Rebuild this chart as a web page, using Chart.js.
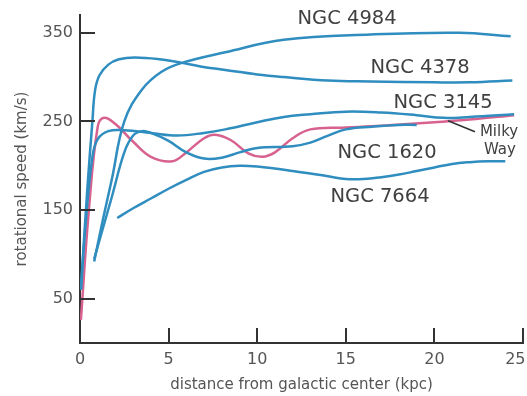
<!DOCTYPE html>
<html>
<head>
<meta charset="utf-8">
<script src="https://cdn.jsdelivr.net/npm/chart.js@4"></script>
<style>
  html, body { margin: 0; padding: 0; background: #ffffff; }
  canvas { display: block; }
</style>
</head>
<body>
<canvas id="curves" width="527" height="396"></canvas>
<script>
// Rotation curves: speed (km/s) against distance from the galactic centre (kpc)
const ngc4984Kpc   = [0.8, 1.3, 1.8, 2.5, 3.5, 4.6, 5.75, 8.2, 11.5, 16.4, 21.4, 24.3];
const ngc4984Speed = [92, 140, 185, 250, 286, 306, 316, 328, 342, 348, 350, 346];

const ngc4378Kpc   = [0.05, 0.4, 0.7, 0.85, 1.1, 1.6, 2.2, 3.1, 4.5, 5.75, 6.8, 8.2, 10, 11.5, 14, 16.4, 20, 22, 24.4];
const ngc4378Speed = [60, 170, 250, 285, 302, 314, 320, 322, 320, 316, 312, 308, 303, 300, 296, 295, 294, 294, 296];

const ngc3145Kpc   = [0.05, 0.3, 0.7, 1.0, 1.6, 2.5, 4, 5.5, 7, 8.2, 10, 11.5, 13, 15, 17, 19, 20.5, 22, 24.5];
const ngc3145Speed = [60, 130, 210, 230, 239, 240, 237, 234, 237, 241, 249, 255, 258, 261, 260, 257, 254, 255, 258];

const ngc1620Kpc   = [0.8, 1.8, 2.5, 3.0, 3.5, 4, 5, 6, 7, 8, 9, 10, 12, 13, 14, 15, 16.5, 18, 19];
const ngc1620Speed = [95, 165, 215, 234, 239, 237, 228, 215, 208, 209, 215, 220, 222, 226, 234, 241, 244, 246, 246];

const ngc7664Kpc   = [2.1, 3, 4, 5, 6, 7, 8, 9, 10, 12, 14, 15, 16, 17, 18, 19, 20, 21, 22, 23, 24];
const ngc7664Speed = [141, 152, 163, 174, 184, 193, 198, 200, 199, 194, 188, 185, 185, 187, 190, 194, 198, 202, 204, 205, 205];

const milkyWayKpc   = [0.05, 0.5, 1.0, 1.35, 2, 3, 4, 5.2, 6, 7, 7.6, 8.5, 9.5, 10.3, 11, 12, 13, 15, 17, 20, 22, 24.5];
const milkyWaySpeed = [26, 150, 244, 254, 247, 227, 210, 205, 215, 231, 235, 229, 214, 210, 215, 231, 241, 243, 245, 249, 252, 257];

// Curve names and where they are written (kpc, km/s)
const labelNames = ['NGC 4984', 'NGC 4378', 'NGC 3145', 'NGC 1620', 'NGC 7664'];
const labelKpc   = [15.07, 19.19, 20.49, 17.33, 16.93];
const labelSpeed = [365, 310.7, 271.2, 214.7, 165];

const milkyWayLines = ['Milky', 'Way'];
const milkyWayLabelKpc   = [23.65, 23.70];
const milkyWayLabelSpeed = [238.4, 218.1];
const leaderKpc   = [20.77, 22.29];
const leaderSpeed = [250.8, 238.4];

const xTicks = [0, 5, 10, 15, 20, 25];
const yTicks = [50, 150, 250, 350];

const BLUE = '#2f8dbf';
const PINK = '#d8628f';
const INK = '#333333';
const TEXT = '#404040';
const FONT = "'DejaVu Sans', Verdana, sans-serif";

function pairs(xs, ys) { return xs.map((x, i) => ({ x: x, y: ys[i] })); }

function curve(xs, ys, color) {
  return {
    data: pairs(xs, ys),
    borderColor: color,
    borderWidth: 2.5,
    pointRadius: 0,
    fill: false,
    tension: 0.4
  };
}

// Inward tick marks along both axes, plus the curve names
const decorations = {
  id: 'decorations',
  afterDraw(chart) {
    const ctx = chart.ctx;
    const xs = chart.scales.x, ys = chart.scales.y;
    const area = chart.chartArea;
    ctx.save();
    ctx.strokeStyle = INK;
    ctx.lineWidth = 2;
    xTicks.forEach(v => {
      if (v === 0) return;
      const px = Math.round(xs.getPixelForValue(v));
      ctx.beginPath();
      ctx.moveTo(px, area.bottom);
      ctx.lineTo(px, area.bottom - 15);
      ctx.stroke();
    });
    yTicks.forEach(v => {
      const py = Math.round(ys.getPixelForValue(v));
      ctx.beginPath();
      ctx.moveTo(area.left, py);
      ctx.lineTo(area.left + 15, py);
      ctx.stroke();
    });

    ctx.fillStyle = TEXT;
    ctx.textAlign = 'center';
    ctx.textBaseline = 'middle';
    ctx.font = '19.5px ' + FONT;
    labelNames.forEach((name, i) => {
      ctx.fillText(name, xs.getPixelForValue(labelKpc[i]), ys.getPixelForValue(labelSpeed[i]));
    });
    ctx.font = '15px ' + FONT;
    milkyWayLines.forEach((t, i) => {
      ctx.fillText(t, xs.getPixelForValue(milkyWayLabelKpc[i]), ys.getPixelForValue(milkyWayLabelSpeed[i]));
    });
    ctx.strokeStyle = INK;
    ctx.lineWidth = 1.6;
    ctx.beginPath();
    ctx.moveTo(xs.getPixelForValue(leaderKpc[0]), ys.getPixelForValue(leaderSpeed[0]));
    ctx.lineTo(xs.getPixelForValue(leaderKpc[1]), ys.getPixelForValue(leaderSpeed[1]));
    ctx.stroke();
    ctx.restore();
  }
};

new Chart(document.getElementById('curves'), {
  type: 'line',
  data: {
    datasets: [
      curve(ngc4984Kpc, ngc4984Speed, BLUE),
      curve(ngc4378Kpc, ngc4378Speed, BLUE),
      curve(ngc3145Kpc, ngc3145Speed, BLUE),
      curve(ngc1620Kpc, ngc1620Speed, BLUE),
      curve(ngc7664Kpc, ngc7664Speed, BLUE),
      curve(milkyWayKpc, milkyWaySpeed, PINK)
    ]
  },
  options: {
    responsive: false,
    animation: false,
    events: [],
    layout: { padding: { top: 15, right: 4, left: 0, bottom: 0 } },
    plugins: { legend: { display: false }, tooltip: { enabled: false } },
    scales: {
      x: {
        type: 'linear',
        min: 0,
        max: 25,
        afterFit: s => { s.height = 53; s.paddingLeft = 0; s.paddingRight = 0; },
        afterBuildTicks: s => { s.ticks = xTicks.map(v => ({ value: v })); },
        grid: { display: false, drawTicks: false },
        border: { display: true, color: INK, width: 2 },
        ticks: {
          color: '#555555',
          font: { family: FONT, size: 16 },
          padding: 7,
          maxRotation: 0,
          // keep the last label inside the canvas edge
          callback: v => (v === 25 ? '25\u00a0\u00a0\u00a0' : String(v))
        },
        title: {
          display: true,
          text: 'distance from galactic center (kpc)',
          color: '#555555',
          font: { family: FONT, size: 15 },
          padding: { top: 0, bottom: 2 }
        }
      },
      y: {
        min: 0,
        max: 370,
        afterFit: s => { s.width = 80; s.paddingTop = 0; s.paddingBottom = 0; },
        afterBuildTicks: s => { s.ticks = yTicks.map(v => ({ value: v })); },
        grid: { display: false, drawTicks: false },
        border: { display: true, color: INK, width: 2 },
        ticks: { color: '#555555', font: { family: FONT, size: 16 }, padding: 7 },
        title: {
          display: true,
          text: 'rotational speed (km/s)',
          color: '#555555',
          font: { family: FONT, size: 15 },
          padding: { top: 13, bottom: 0 }
        }
      }
    }
  },
  plugins: [decorations]
});
</script>
</body>
</html>
